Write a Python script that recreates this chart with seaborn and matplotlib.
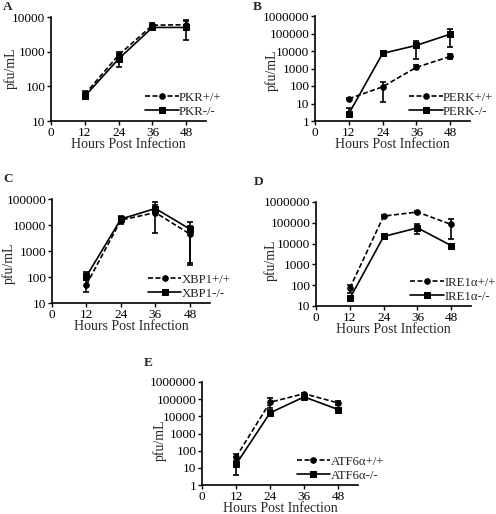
import numpy as np
import pandas as pd
import matplotlib
matplotlib.use("Agg")
import matplotlib.pyplot as plt
import seaborn as sns

sns.set_theme(style="ticks")
plt.rcParams['font.family'] = ['Liberation Serif', 'DejaVu Serif']

hours = [12, 24, 36, 48]

# Panel A: PKR
pkr_wt = [59, 800, 5800, 6000]
pkr_wt_lo = [45, 650, 5000, 4500]
pkr_wt_hi = [72, 950, 6600, 8000]
pkr_ko = [52, 620, 5000, 5000]
pkr_ko_lo = [42, 350, 4300, 2200]
pkr_ko_hi = [65, 880, 5700, 7800]

# Panel B: PERK
perk_wt = [18.6, 90, 1170, 4900]
perk_wt_lo = [15, 12, 900, 3500]
perk_wt_hi = [22, 160, 1600, 7000]
perk_ko = [2.6, 7300, 21000, 92000]
perk_ko_lo = [1.8, 6000, 3600, 18000]
perk_ko_hi = [5.5, 8800, 38000, 180000]

# Panel C: XBP1
xbp_wt = [51, 15500, 30000, 4500]
xbp_wt_lo = [26, 11000, 5000, 300]
xbp_wt_hi = [80, 20000, 60000, 9000]
xbp_ko = [107, 17000, 43000, 7000]
xbp_ko_lo = [80, 12000, 30000, 350]
xbp_ko_hi = [160, 22000, 75000, 12500]

# Panel D: IRE1a
ire_wt = [72, 210000, 330000, 83000]
ire_wt_lo = [40, 185000, 300000, 16000]
ire_wt_hi = [100, 235000, 360000, 150000]
ire_ko = [23, 22000, 57000, 8000]
ire_ko_lo = [19, 20000, 30000, 6500]
ire_ko_hi = [28, 24000, 85000, 10000]

# Panel E: ATF6a
atf_wt = [42, 66000, 210000, 60000]
atf_wt_lo = [25, 30000, 180000, 45000]
atf_wt_hi = [65, 110000, 240000, 75000]
atf_ko = [16, 16000, 135000, 25000]
atf_ko_lo = [3.8, 12000, 115000, 19000]
atf_ko_hi = [40, 25000, 155000, 32000]

panels = [
    ("A", "PKR", pkr_wt, pkr_wt_lo, pkr_wt_hi, pkr_ko, pkr_ko_lo, pkr_ko_hi, (10, 10000)),
    ("B", "PERK", perk_wt, perk_wt_lo, perk_wt_hi, perk_ko, perk_ko_lo, perk_ko_hi, (1, 1000000)),
    ("C", "XBP1", xbp_wt, xbp_wt_lo, xbp_wt_hi, xbp_ko, xbp_ko_lo, xbp_ko_hi, (10, 100000)),
    ("D", "IRE1α", ire_wt, ire_wt_lo, ire_wt_hi, ire_ko, ire_ko_lo, ire_ko_hi, (10, 1000000)),
    ("E", "ATF6α", atf_wt, atf_wt_lo, atf_wt_hi, atf_ko, atf_ko_lo, atf_ko_hi, (1, 1000000)),
]

W, H = 496, 514
boxes = {
    "A": (51, 17, 206, 121),
    "B": (315, 16, 470, 121),
    "C": (52, 199, 210, 303),
    "D": (316, 202, 471, 306),
    "E": (202, 382, 358, 485),
}
letter_pos = {"A": (3, 7), "B": (253, 7), "C": (3, 179), "D": (254, 182), "E": (144, 363)}
# y-label centre positions (pixels)
ylab_pos = {"A": (12, 68), "B": (273, 70), "C": (10, 263), "D": (272, 260), "E": (161, 440)}

fig = plt.figure(figsize=(W / 100, H / 100), dpi=100)
fs = 9.5

for letter, name, wt, wlo, whi, ko, klo, khi, ylim in panels:
    x0, y0, x1, y1 = boxes[letter]
    ax = fig.add_axes([x0 / W, 1 - y1 / H, (x1 - x0) / W, (y1 - y0) / H])
    df_wt = pd.DataFrame({"h": hours, "v": wt})
    df_ko = pd.DataFrame({"h": hours, "v": ko})
    sns.lineplot(data=df_wt, x="h", y="v", ax=ax, color="black", lw=1.2,
                 marker="o", markersize=4, markeredgecolor="black",
                 linestyle=(0, (3, 1.5)), label=name + "+/+")
    sns.lineplot(data=df_ko, x="h", y="v", ax=ax, color="black", lw=1.2,
                 marker="s", markersize=4, markeredgecolor="black",
                 linestyle="-", label=name + "-/-")
    ax.errorbar(hours, wt, yerr=[np.array(wt) - np.array(wlo), np.array(whi) - np.array(wt)],
                fmt="none", ecolor="black", elinewidth=1.2, capsize=2.5, capthick=1.2)
    ax.errorbar(hours, ko, yerr=[np.array(ko) - np.array(klo), np.array(khi) - np.array(ko)],
                fmt="none", ecolor="black", elinewidth=1.2, capsize=2.5, capthick=1.2)
    ax.set_yscale("log")
    ax.set_ylim(*ylim)
    ax.set_xlim(0, 55)
    ax.set_xticks([0, 12, 24, 36, 48])
    ax.set_xticklabels(["0", "12", "24", "36", "48"], fontsize=fs)
    yt = [10 ** k for k in range(int(np.log10(ylim[0])), int(np.log10(ylim[1])) + 1)]
    ax.set_yticks(yt)
    ax.set_yticklabels([str(v) for v in yt], fontsize=fs)
    ax.yaxis.set_minor_locator(matplotlib.ticker.LogLocator(base=10, subs=np.arange(2, 10)))
    ax.yaxis.set_minor_formatter(matplotlib.ticker.NullFormatter())
    ax.set_xlabel("Hours Post Infection", fontsize=fs + 0.5, labelpad=-0.5)
    ax.set_ylabel("pfu/mL", fontsize=fs + 0.5)
    lx, ly = ylab_pos[letter]
    ax.yaxis.set_label_coords((lx + 6 - x0) / (x1 - x0), (y1 - ly) / (y1 - y0))
    ax.tick_params(axis="both", which="major", direction="out", length=3, width=1, pad=1, colors="black")
    ax.tick_params(axis="y", which="minor", direction="out", length=1.5, width=0.8, colors="black")
    for s in ["top", "right"]:
        ax.spines[s].set_visible(False)
    for s in ["left", "bottom"]:
        ax.spines[s].set_linewidth(1.2)
        ax.spines[s].set_color("black")
    ax.legend(loc="lower left", bbox_to_anchor=(0.6, 0.02), frameon=False,
              fontsize=9.2, handlelength=2.6, handletextpad=0.05,
              labelspacing=0.15, borderpad=0.1, borderaxespad=0)
    lx, ly = letter_pos[letter]
    fig.text(lx / W, 1 - ly / H, letter, fontsize=9.5, fontweight="bold", va="center", ha="left")

fig.savefig("out.png", dpi=100)
